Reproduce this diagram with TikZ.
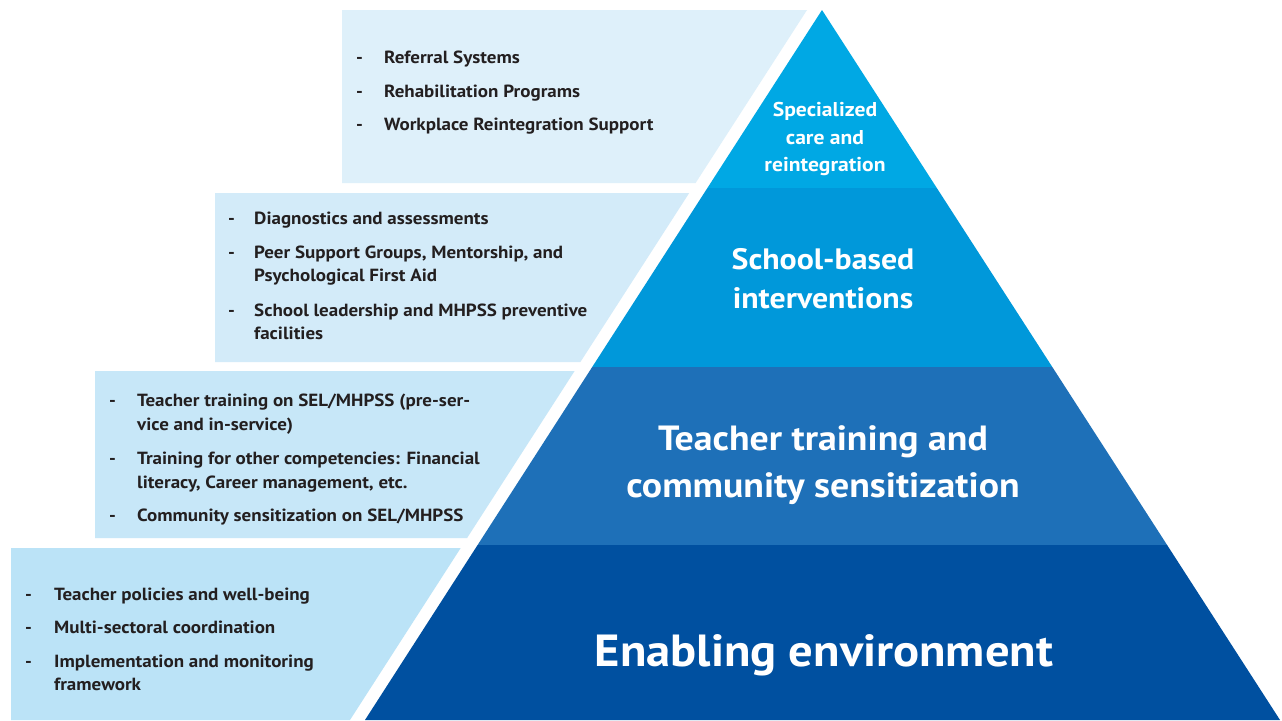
\documentclass[tikz,border=0pt]{standalone}
\usepackage{fontspec}
\setmainfont{PT Sans}
\newfontfamily\widesans[FakeStretch=1.08]{PT Sans}
\begin{document}
\definecolor{tierA}{RGB}{0,168,228}
\definecolor{tierB}{RGB}{0,152,218}
\definecolor{tierC}{RGB}{30,112,184}
\definecolor{tierD}{RGB}{0,80,160}
\definecolor{panelA}{RGB}{222,240,250}
\definecolor{panelB}{RGB}{211,235,249}
\definecolor{panelC}{RGB}{199,231,248}
\definecolor{panelD}{RGB}{187,227,247}
\definecolor{ink}{RGB}{35,31,32}
\begin{tikzpicture}[x=1pt,y=-1pt,
  itemtext/.style={anchor=base west,inner sep=0pt,text=ink,font=\widesans\bfseries\fontsize{17.6}{20}\selectfont},
  tierlabel/.style={align=center,inner sep=0pt,text=white},
  panel/.style={draw=none},
  tier/.style={draw=none}]
\useasboundingbox (0,0) rectangle (1282,720);
\fill[white] (0,0) rectangle (1282,720);

% pyramid corner points
\coordinate (apex) at (822,10);
\coordinate (l1) at (707.4,188);  \coordinate (r1) at (936.8,188);
\coordinate (l2) at (592.2,367);  \coordinate (r2) at (1052.3,367);
\coordinate (l3) at (477.6,545);  \coordinate (r3) at (1167.1,545);
\coordinate (l4) at (365,720);    \coordinate (r4) at (1280,720);

% pyramid tiers
\fill[tier,tierA] (apex) -- (r1) -- (l1) -- cycle;
\fill[tier,tierB] (l1) -- (r1) -- (r2) -- (l2) -- cycle;
\fill[tier,tierC] (l2) -- (r2) -- (r3) -- (l3) -- cycle;
\fill[tier,tierD] (l3) -- (r3) -- (r4) -- (l4) -- cycle;

% side panels, slanted parallel to the pyramid
\fill[panel,panelA] (342,10) -- (807,10) -- (695.6,183) -- (342,183) -- cycle;
\fill[panel,panelB] (215,193) -- (689.2,193) -- (580.4,362) -- (215,362) -- cycle;
\fill[panel,panelC] (95,371) -- (574.6,371) -- (467.1,538) -- (95,538) -- cycle;
\fill[panel,panelD] (11,548) -- (460.7,548) -- (350,720) -- (11,720) -- cycle;

% tier labels
\node[tierlabel,font=\widesans\bfseries\fontsize{20}{27.5}\selectfont] (tA) at (825,139) {Specialized\\care and\\reintegration};
\node[tierlabel,font=\widesans\bfseries\fontsize{29.5}{39}\selectfont] (tB) at (823,279) {School-based\\interventions};
\node[tierlabel,font=\widesans\bfseries\fontsize{35}{47}\selectfont] (tC) at (823,465) {Teacher training and\\community sensitization};
\node[tierlabel,font=\widesans\bfseries\fontsize{45}{50}\selectfont] (tD) at (824,655) {Enabling environment};

% list entries: dash and text line(s)
\newcommand{\dashmark}[3]{\node[itemtext] (#1) at (#2,#3) {-};}
% panel A
\dashmark{dA1}{356}{63}  \node[itemtext] (a1) at (384,63) {Referral Systems};
\dashmark{dA2}{356}{97}  \node[itemtext] (a2) at (384,97) {Rehabilitation Programs};
\dashmark{dA3}{356}{130} \node[itemtext] (a3) at (384,130) {Workplace Reintegration Support};
% panel B
\dashmark{dB1}{228}{224} \node[itemtext] (b1) at (254,224) {Diagnostics and assessments};
\dashmark{dB2}{228}{258} \node[itemtext] (b2) at (254,258) {Peer Support Groups, Mentorship, and};
                         \node[itemtext] (b2b) at (254,281) {Psychological First Aid};
\dashmark{dB3}{228}{316} \node[itemtext] (b3) at (254,316) {School leadership and MHPSS preventive};
                         \node[itemtext] (b3b) at (254,339) {facilities};
% panel C
\dashmark{dC1}{109}{406} \node[itemtext] (c1) at (137,406) {Teacher training on SEL/MHPSS (pre-ser-};
                         \node[itemtext] (c1b) at (137,430) {vice and in-service)};
\dashmark{dC2}{109}{464} \node[itemtext] (c2) at (137,464) {Training for other competencies: Financial};
                         \node[itemtext] (c2b) at (137,488) {literacy, Career management, etc.};
\dashmark{dC3}{109}{521} \node[itemtext] (c3) at (137,521) {Community sensitization on SEL/MHPSS};
% panel D
\dashmark{dD1}{25}{600}  \node[itemtext] (d1) at (54,600) {Teacher policies and well-being};
\dashmark{dD2}{25}{633}  \node[itemtext] (d2) at (54,633) {Multi-sectoral coordination};
\dashmark{dD3}{25}{667}  \node[itemtext] (d3) at (54,667) {Implementation and monitoring};
                         \node[itemtext] (d3b) at (54,690) {framework};
\end{tikzpicture}
\end{document}
